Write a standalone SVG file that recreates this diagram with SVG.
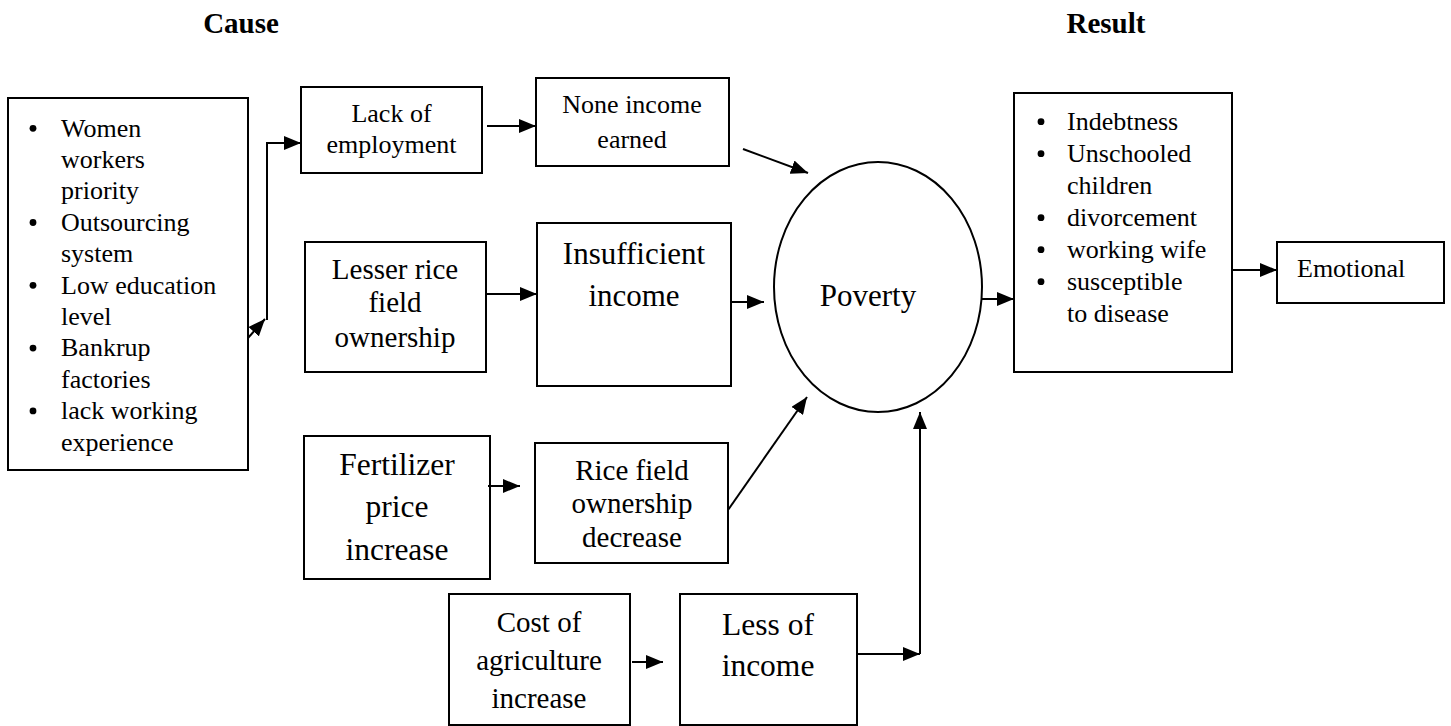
<svg xmlns="http://www.w3.org/2000/svg" width="1451" height="726" viewBox="0 0 1451 726">
<defs>
<style>
.box{fill:#fff;stroke:#000;stroke-width:2}
.t{font-family:"Liberation Serif","Times New Roman",serif;fill:#000}
.c{text-anchor:middle}
.ln{fill:none;stroke:#000;stroke-width:2}
.b{fill:#000}
</style>
<marker id="ah" markerUnits="userSpaceOnUse" markerWidth="17" markerHeight="14" refX="17" refY="7" orient="auto">
<path d="M0,0 L17,7 L0,14 z" fill="#000"/>
</marker>
</defs>
<rect width="1451" height="726" fill="#fff"/>

<text class="t c" x="241" y="33" font-size="29" font-weight="bold">Cause</text>
<text class="t c" x="1106" y="33" font-size="29" font-weight="bold">Result</text>

<g id="causes-list">
<rect class="box" x="8" y="98" width="240" height="372"/>
<g class="b">
<circle cx="33" cy="128.3" r="3.4"/>
<circle cx="33" cy="222.5" r="3.4"/>
<circle cx="33" cy="285.3" r="3.4"/>
<circle cx="33" cy="348.1" r="3.4"/>
<circle cx="33" cy="410.9" r="3.4"/>
</g>
<text class="t" font-size="26">
<tspan x="61" y="136.5">Women</tspan>
<tspan x="61" y="167.9">workers</tspan>
<tspan x="61" y="199.3">priority</tspan>
<tspan x="61" y="230.7">Outsourcing</tspan>
<tspan x="61" y="262.1">system</tspan>
<tspan x="61" y="293.5">Low education</tspan>
<tspan x="61" y="324.9">level</tspan>
<tspan x="61" y="356.3">Bankrup</tspan>
<tspan x="61" y="387.7">factories</tspan>
<tspan x="61" y="419.1">lack working</tspan>
<tspan x="61" y="450.5">experience</tspan>
</text>
</g>

<g id="lack-employment">
<rect class="box" x="301" y="87" width="181" height="86"/>
<text class="t c" font-size="26"><tspan x="391.5" y="122">Lack of</tspan><tspan x="391.5" y="153">employment</tspan></text>
</g>

<g id="none-income">
<rect class="box" x="536" y="78" width="193" height="88"/>
<text class="t c" font-size="26"><tspan x="632" y="113">None income</tspan><tspan x="632" y="148">earned</tspan></text>
</g>

<g id="lesser-rice">
<rect class="box" x="305" y="242" width="181" height="130"/>
<text class="t c" font-size="29"><tspan x="395" y="279">Lesser rice</tspan><tspan x="395" y="312">field</tspan><tspan x="395" y="347">ownership</tspan></text>
</g>

<g id="insufficient-income">
<rect class="box" x="537" y="223" width="194" height="163"/>
<text class="t c" font-size="31"><tspan x="634" y="264">Insufficient</tspan><tspan x="634" y="306">income</tspan></text>
</g>

<g id="poverty">
<ellipse class="box" cx="878" cy="287" rx="104" ry="125"/>
<text class="t c" x="868" y="306" font-size="31">Poverty</text>
</g>

<g id="fertilizer">
<rect class="box" x="304" y="436" width="186" height="143"/>
<text class="t c" font-size="31.5"><tspan x="397" y="475">Fertilizer</tspan><tspan x="397" y="517">price</tspan><tspan x="397" y="560">increase</tspan></text>
</g>

<g id="rice-decrease">
<rect class="box" x="535" y="443" width="193" height="120"/>
<text class="t c" font-size="29"><tspan x="632" y="480">Rice field</tspan><tspan x="632" y="513">ownership</tspan><tspan x="632" y="547">decrease</tspan></text>
</g>

<g id="cost-agriculture">
<rect class="box" x="449" y="594" width="181" height="131"/>
<text class="t c" font-size="29"><tspan x="539" y="632">Cost of</tspan><tspan x="539" y="670">agriculture</tspan><tspan x="539" y="708">increase</tspan></text>
</g>

<g id="less-income">
<rect class="box" x="680" y="594" width="177" height="131"/>
<text class="t c" font-size="31.5"><tspan x="768" y="635">Less of</tspan><tspan x="768" y="676">income</tspan></text>
</g>

<g id="result-list">
<rect class="box" x="1014" y="93" width="218" height="279"/>
<g class="b">
<circle cx="1041" cy="121.7" r="3.4"/>
<circle cx="1041" cy="153.7" r="3.4"/>
<circle cx="1041" cy="217.7" r="3.4"/>
<circle cx="1041" cy="249.7" r="3.4"/>
<circle cx="1041" cy="281.7" r="3.4"/>
</g>
<text class="t" font-size="26">
<tspan x="1067" y="130">Indebtness</tspan>
<tspan x="1067" y="162">Unschooled</tspan>
<tspan x="1067" y="194">children</tspan>
<tspan x="1067" y="226">divorcement</tspan>
<tspan x="1067" y="258">working wife</tspan>
<tspan x="1067" y="290">susceptible</tspan>
<tspan x="1067" y="322">to disease</tspan>
</text>
</g>

<g id="emotional">
<rect class="box" x="1277" y="242" width="167" height="61"/>
<text class="t" x="1297" y="277" font-size="26">Emotional</text>
</g>

<g id="connectors">
<line class="ln" x1="248" y1="338" x2="265" y2="319" marker-end="url(#ah)"/>
<polyline class="ln" points="267,320 267,143 301,143" marker-end="url(#ah)"/>
<line class="ln" x1="487" y1="126" x2="536" y2="126" marker-end="url(#ah)"/>
<line class="ln" x1="743" y1="149" x2="808" y2="173" marker-end="url(#ah)"/>
<line class="ln" x1="487" y1="294" x2="537" y2="294" marker-end="url(#ah)"/>
<line class="ln" x1="732" y1="302" x2="764" y2="302" marker-end="url(#ah)"/>
<line class="ln" x1="488" y1="486" x2="520" y2="486" marker-end="url(#ah)"/>
<line class="ln" x1="728" y1="510" x2="807" y2="397" marker-end="url(#ah)"/>
<line class="ln" x1="632" y1="662" x2="663" y2="662" marker-end="url(#ah)"/>
<line class="ln" x1="857" y1="654" x2="920" y2="654" marker-end="url(#ah)"/>
<line class="ln" x1="920" y1="654" x2="920" y2="412" marker-end="url(#ah)"/>
<line class="ln" x1="982" y1="299" x2="1014" y2="299" marker-end="url(#ah)"/>
<line class="ln" x1="1232" y1="270" x2="1277" y2="270" marker-end="url(#ah)"/>
</g>
</svg>
